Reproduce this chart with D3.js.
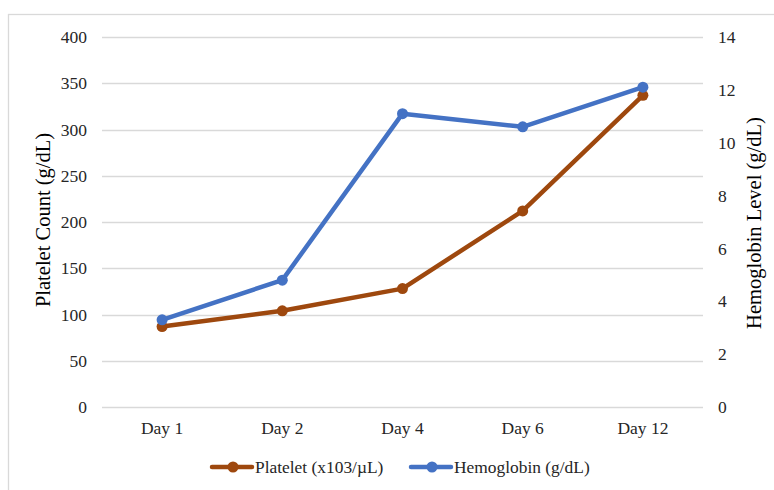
<!DOCTYPE html>
<html>
<head>
<meta charset="utf-8">
<script src="https://cdn.jsdelivr.net/npm/d3@7"></script>
<style>
  html, body { margin: 0; padding: 0; background: #fff; }
  svg { display: block; font-family: "Liberation Serif", "Times New Roman", serif; }
</style>
</head>
<body>
<svg id="chart" width="774" height="490"></svg>
<script>
// Day labels along the x axis
const days = ["Day 1", "Day 2", "Day 4", "Day 6", "Day 12"];
// Platelet count (x10^3/µL), left axis
const platelet = [87, 104, 128, 212, 337];
// Hemoglobin level (g/dL), right axis
const hemoglobin = [3.3, 4.8, 11.1, 10.6, 12.1];
// Tick values for both axes
const leftTicks = [0, 50, 100, 150, 200, 250, 300, 350, 400];
const rightTicks = [0, 2, 4, 6, 8, 10, 12, 14];
const seriesNames = ["Platelet (x103/\u00b5L)", "Hemoglobin (g/dL)"];

const colors = { platelet: "#9E480E", hemoglobin: "#4472C4" };
const tickFont = 17.5;

const svg = d3.select("#chart");
const plot = { left: 102, right: 703, top: 37, bottom: 407 };

// Outer chart frame
svg.append("rect")
  .attr("x", 8.5).attr("y", 14.5)
  .attr("width", 800).attr("height", 520)
  .attr("fill", "none").attr("stroke", "#d9d9d9").attr("stroke-width", 1.3);

const x = d3.scaleBand().domain(days).range([plot.left, plot.right]);
const yL = d3.scaleLinear().domain([0, 400]).range([plot.bottom, plot.top]);
const yR = d3.scaleLinear().domain([0, 14]).range([plot.bottom, plot.top]);

// Horizontal gridlines
svg.append("g").selectAll("line").data(leftTicks).join("line")
  .attr("x1", plot.left).attr("x2", plot.right)
  .attr("y1", d => Math.round(yL(d)) + 0.5).attr("y2", d => Math.round(yL(d)) + 0.5)
  .attr("stroke", "#d9d9d9").attr("stroke-width", 1.3);

// Left axis
const gL = svg.append("g").attr("transform", `translate(${plot.left},0)`)
  .call(d3.axisLeft(yL).tickValues(leftTicks).tickSize(0).tickPadding(15));
gL.select(".domain").remove();
gL.selectAll("text").attr("font-size", tickFont).attr("fill", "#262626")
  .attr("font-family", "Liberation Serif");

// Right axis
const gR = svg.append("g").attr("transform", `translate(${plot.right},0)`)
  .call(d3.axisRight(yR).tickValues(rightTicks).tickSize(0).tickPadding(15));
gR.select(".domain").remove();
gR.selectAll("text").attr("font-size", tickFont).attr("fill", "#262626")
  .attr("font-family", "Liberation Serif");

// Bottom axis
const gB = svg.append("g").attr("transform", `translate(0,${plot.bottom})`)
  .call(d3.axisBottom(x).tickSize(0).tickPadding(15));
gB.select(".domain").remove();
gB.selectAll("text").attr("font-size", tickFont).attr("fill", "#262626")
  .attr("font-family", "Liberation Serif");

// Axis titles
svg.append("text")
  .attr("transform", `translate(50,220) rotate(-90)`)
  .attr("text-anchor", "middle").attr("font-size", 20.5).attr("fill", "#000")
  .text("Platelet Count (g/dL)");
svg.append("text")
  .attr("transform", `translate(761,223) rotate(-90)`)
  .attr("text-anchor", "middle").attr("font-size", 20.5).attr("fill", "#000")
  .text("Hemoglobin Level (g/dL)");

// Series lines and markers
const cx = d => x(d) + x.bandwidth() / 2;
function drawSeries(values, scale, color) {
  const pts = days.map((d, i) => [cx(d), scale(values[i])]);
  svg.append("path")
    .attr("d", d3.line()(pts))
    .attr("fill", "none").attr("stroke", color)
    .attr("stroke-width", 4.5).attr("stroke-linejoin", "round").attr("stroke-linecap", "round");
  svg.append("g").selectAll("circle").data(pts).join("circle")
    .attr("cx", p => p[0]).attr("cy", p => p[1]).attr("r", 5.5)
    .attr("fill", color);
}
drawSeries(platelet, yL, colors.platelet);
drawSeries(hemoglobin, yR, colors.hemoglobin);

// Legend
const legend = [
  { name: seriesNames[0], color: colors.platelet, x: 212 },
  { name: seriesNames[1], color: colors.hemoglobin, x: 411 }
];
const lg = svg.append("g").selectAll("g").data(legend).join("g")
  .attr("transform", d => `translate(${d.x},467)`);
lg.append("line").attr("x1", 0).attr("x2", 40).attr("y1", 0).attr("y2", 0)
  .attr("stroke", d => d.color).attr("stroke-width", 4.5).attr("stroke-linecap", "round");
lg.append("circle").attr("cx", 21).attr("cy", 0).attr("r", 5.5).attr("fill", d => d.color);
lg.append("text").attr("x", 43).attr("y", 6).attr("font-size", 17.4).attr("fill", "#262626")
  .text(d => d.name);
</script>
</body>
</html>
